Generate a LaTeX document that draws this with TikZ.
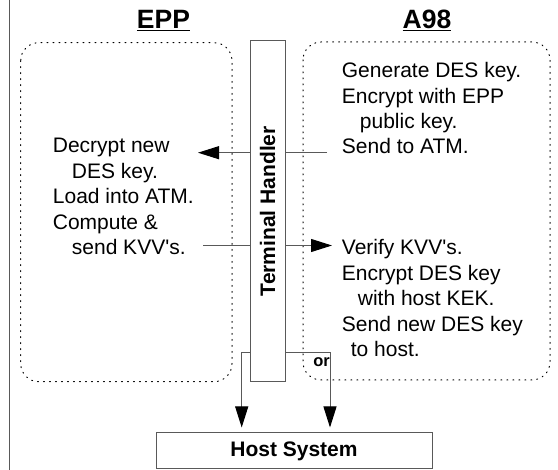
\documentclass[tikz,border=0pt]{standalone}
\usepackage{fontspec}
\setmainfont{Liberation Sans}
\usepackage{tikz}
\usetikzlibrary{arrows.meta,positioning,calc}
\tikzstyle{frame} = [draw=black!65, line width=1pt]
\tikzstyle{group} = [draw, line width=1pt, rounded corners=18pt,
    dash pattern=on 1pt off 5pt, line cap=round]
\tikzstyle{textblock} = [align=left, inner sep=0pt, anchor=base west,
    font=\fontsize{21}{25.4}\selectfont]
\tikzstyle{heading} = [inner sep=0pt, anchor=base,
    font=\fontsize{26.5}{30}\selectfont\bfseries]
\tikzstyle{coord} = [coordinate]
\tikzstyle{connector} = [draw=black!65, line width=1pt]
\tikzstyle{arrowline} = [connector, -{Triangle[length=21pt,width=13pt,color=black]}]
\newcommand{\apos}{\textquotesingle}

\begin{document}
\begin{tikzpicture}[x=1pt, y=-1pt]
    \useasboundingbox (0,0) rectangle (558,470);
    \draw [frame] (9,0) -- (9,470);

    % groups
    \draw [group] (20.7,42.7) rectangle (232,381.7);
    \draw [group] (303,42) rectangle (550,380);
    \node (epp) [heading] at (163.5,29) {\underline{EPP}};
    \node (a98) [heading] at (427,29) {\underline{A98}};

    \node (term) [frame, rectangle, minimum width=35pt, minimum height=341pt] at (267.5,211.2) {};
    \node (termlabel) [rotate=90, inner sep=0pt, font=\fontsize{21}{25}\selectfont\bfseries] at (term.center) {Terminal Handler};
    \node (host) [frame, rectangle, minimum width=276pt, minimum height=36pt, font=\fontsize{21}{25}\selectfont\bfseries] at (294,451) {Host System};

    % anchor base = baseline of the last line
    \node (eppsteps) [textblock] at (52.7,254.6) {Decrypt new\\\hspace*{19pt}DES key.\\Load into ATM.\\Compute \&\\\hspace*{19pt}send KVV\apos s.};
    \node (a98gen) [textblock] at (341.7,154) {Generate DES key.\\Encrypt with EPP\\\hspace*{18pt}public key.\\Send to ATM.};
    \node (a98verify) [textblock] at (341.7,356.6) {Verify KVV\apos s.\\Encrypt DES key\\\hspace*{16pt}with host KEK.\\Send new DES key\\\hspace*{9pt}to host.};

    \node (sendatm) [coord] at (327,152.7) {};
    \node (decrypt) [coord] at (198,152.7) {};
    \node (sendkvv) [coord] at (203,245.5) {};
    \node (verify) [coord] at (332,245.5) {};
    \node (splitL) [coord] at (241.7,352.7) {};
    \node (splitR) [coord] at (330,352.7) {};

    \draw [connector] (sendatm) -- (sendatm-|term.east);
    \draw [arrowline] (decrypt-|term.west) -- (decrypt);
    \draw [connector] (sendkvv) -- (sendkvv-|term.west);
    \draw [arrowline] (verify-|term.east) -- (verify);
    \draw [arrowline, shorten >=5pt] (splitL-|term.west) -- (splitL) -- (splitL|-host.north);
    \draw [arrowline, shorten >=5pt] (splitR-|term.east) -- (splitR) -- (splitR|-host.north);
    \node (or) [inner sep=0pt, font=\fontsize{16.5}{18}\selectfont\bfseries] at (321.5,362) {or};
\end{tikzpicture}
\end{document}
